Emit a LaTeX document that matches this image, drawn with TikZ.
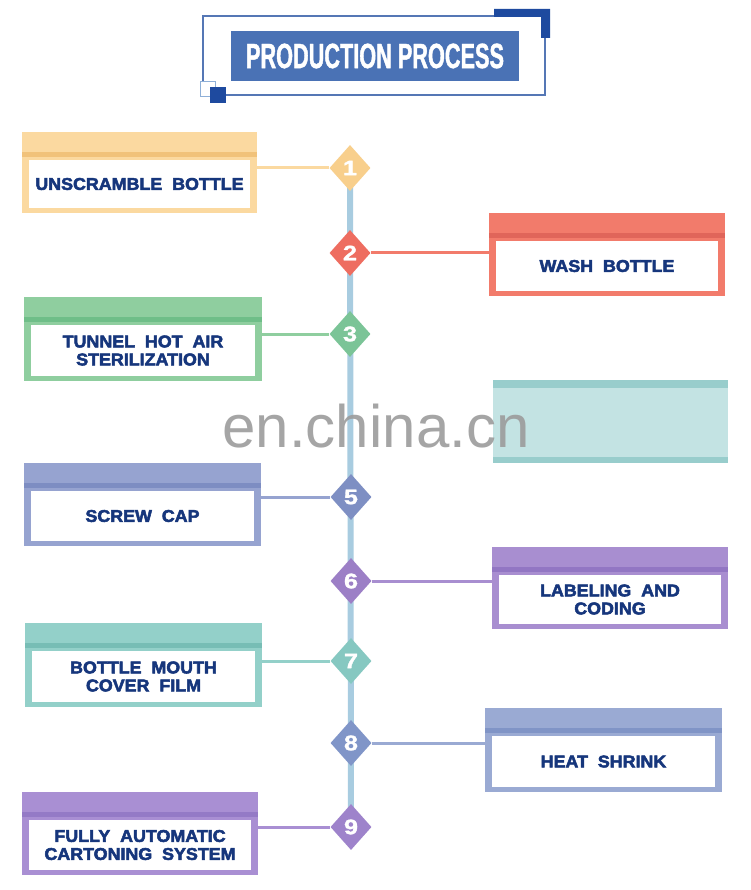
\documentclass[tikz,border=0pt]{standalone}
\usepackage{fontspec}
\setmainfont{Liberation Sans}
\newfontfamily\boxfont[FakeBold=3, FakeStretch=1.05]{Liberation Sans Bold}
\newfontfamily\digitfont[FakeBold=1.5, FakeStretch=1.2]{Liberation Sans Bold}
\newfontfamily\titlefont[FakeStretch=0.62, FakeBold=1.2]{Liberation Sans Bold}
\usetikzlibrary{shapes.geometric}
\definecolor{navy}{HTML}{16367C}
\definecolor{titleblue}{HTML}{4A72B5}
\definecolor{framecol}{HTML}{5577B5}
\definecolor{bracket}{HTML}{1E4A9F}
\definecolor{sqborder}{HTML}{8FB0D8}
\definecolor{vline}{HTML}{A8CCE0}
\definecolor{wm}{HTML}{9C9C9C}
\definecolor{c1}{HTML}{FBD9A0}\definecolor{c1s}{HTML}{F1C27A}\definecolor{c1d}{HTML}{F8CF8C}
\definecolor{c2}{HTML}{F27B6B}\definecolor{c2s}{HTML}{E0655A}\definecolor{c2d}{HTML}{EE6D60}
\definecolor{c3}{HTML}{8FCE9F}\definecolor{c3s}{HTML}{6FBE88}\definecolor{c3d}{HTML}{7BC497}
\definecolor{c4}{HTML}{C3E3E3}\definecolor{c4s}{HTML}{98CDCC}
\definecolor{c5}{HTML}{96A3D0}\definecolor{c5s}{HTML}{7D8DC2}\definecolor{c5d}{HTML}{7E8FC3}
\definecolor{c6}{HTML}{A88ED0}\definecolor{c6s}{HTML}{9276C3}\definecolor{c6d}{HTML}{9C7FC6}
\definecolor{c7}{HTML}{93D0C9}\definecolor{c7s}{HTML}{77BDB5}\definecolor{c7d}{HTML}{86C8C1}
\definecolor{c8}{HTML}{9AAAD3}\definecolor{c8s}{HTML}{8094C6}\definecolor{c8d}{HTML}{8095C8}
\definecolor{c9}{HTML}{A98FD3}\definecolor{c9s}{HTML}{947AC6}\definecolor{c9d}{HTML}{9E83CB}
\tikzset{
  outerbox/.style={inner sep=0pt, draw=none},
  innerbox/.style={inner sep=0pt, fill=white, text=navy, align=center,
    font=\boxfont\fontsize{17}{18}\selectfont},
  dia/.style={diamond, inner sep=0pt, minimum width=41pt, minimum height=46pt,
    text=white, font=\digitfont\fontsize{21}{21}\selectfont},
  conn/.style={line width=3pt},
  mainline/.style={line width=6pt, vline},
}
\newcommand\pbox[7]{%
  \node[outerbox, fill=#2, minimum width={(#5-#3)*1pt}, minimum height={(#6-#4)*1pt}]
    (o#1) at ({(#3+#5)/2},{(#4+#6)/2}) {};
  \fill[#2s] ([yshift=-20pt]o#1.north west) rectangle ([yshift=-25pt]o#1.north east);
  \node[innerbox, minimum width={(#5-#3-14)*1pt}, minimum height={(#6-#4-33)*1pt}]
    (t#1) at ({(#3+#5)/2},{(#4+#6+23)/2}) {#7};
}
\begin{document}
\begin{tikzpicture}[x=1pt,y=-1pt]
\useasboundingbox (0,0) rectangle (750,890);
\fill[white] (0,0) rectangle (750,890);
% title
\draw[framecol, line width=1.8pt] (203,16) rectangle (545,95);
\fill[bracket] (494,9) -- (550,9) -- (550,38) -- (541,38) -- (541,17) -- (494,17) -- cycle;
\draw[sqborder, fill=white, line width=1pt] (200,82) rectangle (215,97);
\fill[bracket] (210,87) rectangle (226,103);
\node[fill=titleblue, minimum width=288pt, minimum height=50pt, inner sep=0pt, text=white,
  font=\titlefont\fontsize{35}{35}\selectfont] (title) at (375,56) {PRODUCTION PROCESS};
% main line ends
\coordinate (p1) at (350,168);
\coordinate (p9) at (351,827);
\draw[mainline] (p1) -- (p9);
% boxes
\pbox{1}{c1}{22}{132}{257}{213}{UNSCRAMBLE\ \ BOTTLE}
\pbox{2}{c2}{489}{213}{725}{296}{WASH\ \ BOTTLE}
\pbox{3}{c3}{24}{297}{262}{381}{TUNNEL\ \ HOT\ \ AIR\\STERILIZATION}
\pbox{5}{c5}{24}{463}{261}{546}{SCREW\ \ CAP}
\pbox{6}{c6}{492}{547}{728}{629}{LABELING\ \ AND\\CODING}
\pbox{7}{c7}{25}{623}{262}{707}{BOTTLE\ \ MOUTH\\COVER\ \ FILM}
\pbox{8}{c8}{485}{708}{722}{792}{HEAT\ \ SHRINK}
\pbox{9}{c9}{22}{792}{258}{875}{FULLY\ \ AUTOMATIC\\CARTONING\ \ SYSTEM}
% faded box 4
\node[outerbox, fill=c4, minimum width=235pt, minimum height=83pt] (o4) at (610.5,421.5) {};
\fill[c4s] (o4.north west) rectangle ([yshift=-8pt]o4.north east);
\fill[c4s] ([yshift=6pt]o4.south west) rectangle (o4.south east);
% diamonds
\node[dia, fill=c1d] (d1) at (350,168) {1};
\node[dia, fill=c2d] (d2) at (350,253) {2};
\node[dia, fill=c3d] (d3) at (350,334) {3};
\node[dia, fill=c5d] (d5) at (351,497) {5};
\node[dia, fill=c6d] (d6) at (351,581) {6};
\node[dia, fill=c7d] (d7) at (351,661) {7};
\node[dia, fill=c8d] (d8) at (351,743) {8};
\node[dia, fill=c9d] (d9) at (351,827) {9};
% connectors
\draw[conn, c1] (d1) -- (d1 -| o1.east);
\draw[conn, c2] (d2) -- (d2 -| o2.west);
\draw[conn, c3] (d3) -- (d3 -| o3.east);
\draw[conn, c5] (d5) -- (d5 -| o5.east);
\draw[conn, c6] (d6) -- (d6 -| o6.west);
\draw[conn, c7] (d7) -- (d7 -| o7.east);
\draw[conn, c8] (d8) -- (d8 -| o8.west);
\draw[conn, c9] (d9) -- (d9 -| o9.east);
% watermark
\node[text=wm, opacity=0.9, inner sep=0pt, font=\fontsize{60}{60}\selectfont] (wmark) at (376,426) {en.china.cn};
\end{tikzpicture}
\end{document}
